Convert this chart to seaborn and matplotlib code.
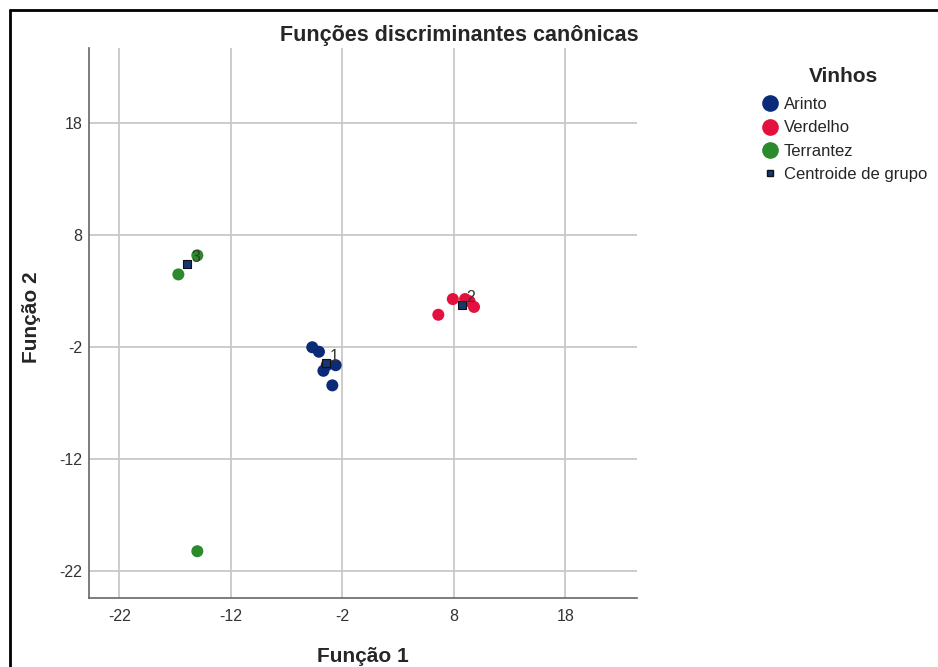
import matplotlib
matplotlib.use("Agg")
import matplotlib.pyplot as plt
import pandas as pd
import seaborn as sns
from matplotlib.lines import Line2D

# canonical discriminant scores
vinho = ["Arinto"] * 6 + ["Verdelho"] * 5 + ["Terrantez"] * 3
funcao1 = [-4.7, -4.1, -3.4, -3.7, -2.6, -2.9,
           6.6, 7.9, 9.0, 9.4, 9.8,
           -16.7, -15.0, -15.0]
funcao2 = [-2.0, -2.4, -3.6, -4.1, -3.6, -5.4,
           0.9, 2.3, 2.3, 2.1, 1.6,
           4.5, 6.2, -20.2]

grupos = ["Arinto", "Verdelho", "Terrantez"]
cores = ["#0b2a78", "#e4103e", "#2b8a2b"]
centro_x = [-3.5, 8.7, -15.9]
centro_y = [-3.4, 1.8, 5.4]
centro_lbl = ["1", "2", "3"]

ticks = [-22, -12, -2, 8, 18]

df = pd.DataFrame({"Função 1": funcao1, "Função 2": funcao2, "Vinhos": vinho})

sns.set_style("white")
plt.rcParams["font.family"] = ["Liberation Sans", "DejaVu Sans"]
plt.rcParams["axes.unicode_minus"] = False

fig = plt.figure(figsize=(9.38, 6.67), dpi=100)
ax = fig.add_axes([0.095, 0.103, 0.584, 0.825])

sns.scatterplot(data=df, x="Função 1", y="Função 2", hue="Vinhos",
                hue_order=grupos, palette=cores, s=75, linewidth=0,
                legend=False, ax=ax, zorder=3)
ax.scatter(centro_x, centro_y, marker="s", s=28, color="#17376e",
           edgecolor="#111111", linewidth=0.8, zorder=4)
for cx, cy, t in zip(centro_x, centro_y, centro_lbl):
    ax.text(cx + 0.4, cy + 0.2, t, fontsize=11.5, color="#333333", zorder=5)

ax.set_xlim(-24.7, 24.4)
ax.set_ylim(-24.4, 24.7)
ax.set_xticks(ticks)
ax.set_yticks(ticks)
ax.grid(True, color="#c8c8c8", linewidth=1.3)
ax.set_axisbelow(True)
for s in ["top", "right"]:
    ax.spines[s].set_visible(False)
for s in ["left", "bottom"]:
    ax.spines[s].set_color("#666666")
    ax.spines[s].set_linewidth(1.2)
ax.tick_params(labelsize=11.5, colors="#333333", length=0)
ax.tick_params(axis="x", pad=8)
ax.tick_params(axis="y", pad=5)
ax.set_xlabel("Função 1", fontsize=15, fontweight="bold")
ax.set_ylabel("Função 2", fontsize=15, fontweight="bold")
ax.xaxis.set_label_coords(0.5, -0.088)
ax.yaxis.set_label_coords(-0.087, 0.51)

fig.text(0.49, 0.947, "Funções discriminantes canônicas", ha="center",
         va="center", fontsize=15.5, fontweight="bold")

handles = [Line2D([], [], marker="o", linestyle="", markersize=12,
                  markerfacecolor=c, markeredgewidth=0) for c in cores]
handles.append(Line2D([], [], marker="s", linestyle="", markersize=5,
                      markerfacecolor="#17376e", markeredgecolor="#111111"))
leg = fig.legend(handles, grupos + ["Centroide de grupo"], title="Vinhos",
                 loc="upper left", bbox_to_anchor=(0.802, 0.912), frameon=False,
                 fontsize=12, title_fontproperties={"weight": "bold", "size": 15},
                 handletextpad=0.3, labelspacing=0.5, handlelength=1.1,
                 borderpad=0)
leg._legend_box.sep = 8

# outer frame of the exported image
fig.add_artist(Line2D([0.011, 0.011], [0, 0.985], color="black", linewidth=2,
                      transform=fig.transFigure))
fig.add_artist(Line2D([0.011, 1], [0.985, 0.985], color="black", linewidth=2,
                      transform=fig.transFigure))

fig.savefig("out.png", dpi=100)
